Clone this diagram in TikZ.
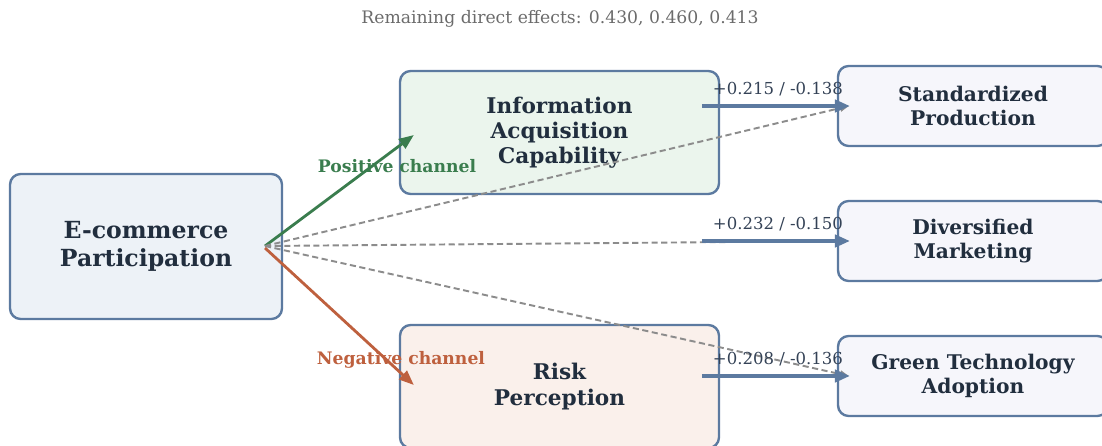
\documentclass[tikz,border=0pt]{standalone}
\usepackage{fontspec}
\setmainfont{DejaVu Serif}
\usepackage{tikz}
\usetikzlibrary{arrows.meta,positioning,calc}
\usepackage{xcolor}
\definecolor{edge}{RGB}{92,122,160}
\definecolor{ink}{RGB}{33,46,62}
\definecolor{numink}{RGB}{52,66,86}
\definecolor{posgreen}{RGB}{58,125,78}
\definecolor{neggold}{RGB}{190,96,62}
\definecolor{fillsrc}{RGB}{237,242,247}
\definecolor{fillinfo}{RGB}{235,245,237}
\definecolor{fillrisk}{RGB}{250,240,235}
\definecolor{fillout}{RGB}{246,246,251}
\newcommand{\fs}[1]{\fontsize{#1}{1.17\dimexpr#1pt\relax}\selectfont}

\begin{document}
\begin{tikzpicture}[x=0.02cm,y=-0.02cm,
  box/.style={draw=edge,line width=1.35pt,rounded corners=6pt,align=center,text=ink,inner sep=3pt},
  srcbox/.style={box,fill=fillsrc,minimum width=5.44cm,minimum height=2.9cm,font=\fs{13.4}\bfseries},
  midbox/.style={box,minimum width=6.38cm,minimum height=2.46cm,font=\fs{12.3}\bfseries},
  outbox/.style={box,fill=fillout,minimum width=5.4cm,minimum height=1.6cm,font=\fs{11.5}\bfseries},
  num/.style={font=\fs{9.4},text=numink,inner sep=1pt},
  chan/.style={font=\fs{9.8}\bfseries,inner sep=1pt},
  arr/.style={-{Triangle[length=8.5pt,width=7pt]},line width=2pt,edge},
  chanarr/.style={-{Triangle[length=8.5pt,width=6.5pt]},line width=1.6pt},
  direct/.style={-{Triangle[length=5pt,width=4pt]},line width=1.1pt,black!45,dash pattern=on 3.5pt off 2pt}]
  \useasboundingbox (0,0) rectangle (1102,446);
  \node[font=\fs{9.8},text=black!58] (T) at (560,19) {Remaining direct effects: 0.430, 0.460, 0.413};
  \node[srcbox] (EP) at (146,246.5) {E-commerce\\Participation};
  \node[midbox,fill=fillinfo] (IAC) at (559.5,132.5) {Information\\Acquisition\\Capability};
  \node[midbox,fill=fillrisk] (RP) at (559.5,386.5) {Risk\\Perception};
  \node[outbox] (SP) at (973,106) {Standardized\\Production};
  \node[outbox] (DM) at (973,241) {Diversified\\Marketing};
  \node[outbox] (GT) at (973,376) {Green Technology\\Adoption};
  \coordinate (hub) at (265,246);
  % channels
  \draw[chanarr,posgreen] (hub) -- ($(IAC.west)+(15,2.5)$);
  \draw[chanarr,neggold] ($(hub)+(0,2)$) -- ($(RP.west)+(15,-1.5)$);
  \node[chan,text=posgreen] (PC) at (397,166) {Positive channel};
  \node[chan,text=neggold] (NC) at (401,360) {Negative channel};
  % remaining direct effects
  \draw[direct] (hub) -- ($(SP.west)+(12,0)$);
  \draw[direct] (hub) -- ($(DM.west)+(12,0)$);
  \draw[direct] (hub) -- ($(GT.west)+(12,0)$);
  % mediated effects
  \draw[arr] ($(SP.west)+(-135,0)$) -- ($(SP.west)+(13,0)$);
  \draw[arr] ($(DM.west)+(-135,0)$) -- ($(DM.west)+(13,0)$);
  \draw[arr] ($(GT.west)+(-135,0)$) -- ($(GT.west)+(13,0)$);
  \node[num] (ESP) at (778,89) {+0.215 / -0.138};
  \node[num] (EDM) at (778,224) {+0.232 / -0.150};
  \node[num] (EGT) at (778,359) {+0.208 / -0.136};
\end{tikzpicture}
\end{document}
